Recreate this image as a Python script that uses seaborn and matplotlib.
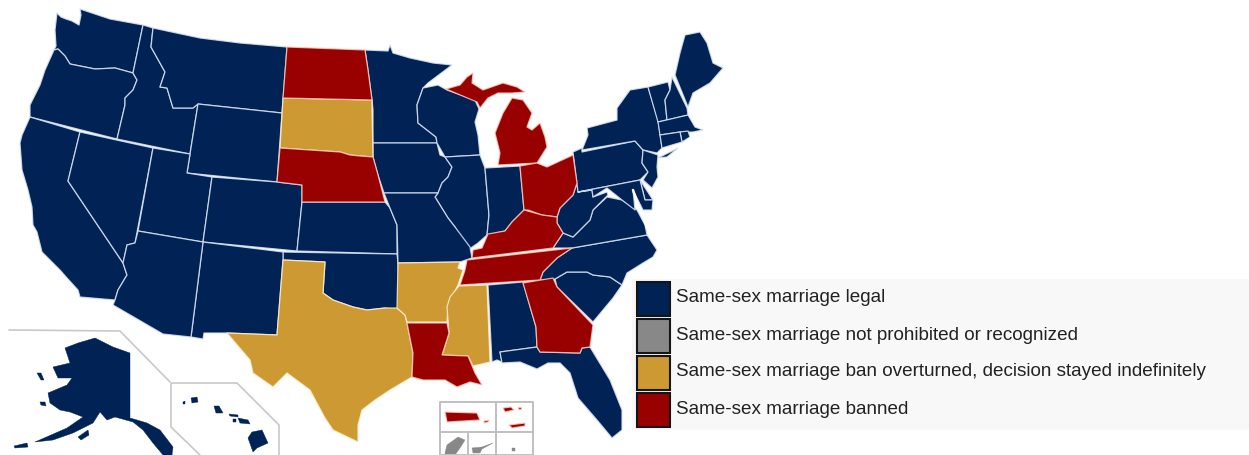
import matplotlib
matplotlib.use("Agg")
import matplotlib.pyplot as plt
from matplotlib.patches import Rectangle
import seaborn as sns

# outlines, in image pixels (x, y)
WA = [(57,13),(61,17),(66,19),(72,21),(79,25),(81,15),(80,9),(110,19),(143,25),(133,73),(115,68),(95,69),(80,66),(70,64),(65,56),(58,49),(54,50),(56,46),(55,30)]
OR = [(54,50),(58,49),(65,56),(70,64),(80,66),(95,69),(115,68),(133,73),(137,80),(133,90),(125,98),(125,105),(117,139),(30,117),(30,105),(40,85),(45,70)]
CA = [(30,117),(80,132),(68,181),(123,263),(127,275),(118,290),(115,300),(80,297),(78,290),(67,278),(60,270),(42,252),(37,232),(33,225),(32,207),(28,190),(22,170),(20,143),(22,135)]
NV = [(80,132),(153,148),(135,243),(127,245),(123,263),(68,181)]
ID = [(143,25),(153,28),(151,47),(160,63),(165,72),(160,87),(167,88),(173,108),(193,108),(198,104),(190,154),(117,139),(125,105),(125,98),(133,90),(137,80),(133,73)]
MT = [(153,28),(200,38),(240,43),(287,47),(282,113),(198,104),(193,108),(173,108),(167,88),(160,87),(165,72),(160,63),(151,47)]
ND = [(287,47),(365,50),(368,70),(372,100),(283,98)]
SD = [(283,98),(372,100),(372,110),(373,157),(360,156),(350,155),(340,152),(280,148)]
NE = [(280,148),(340,152),(350,155),(360,156),(373,157),(378,175),(385,202),(302,202),(302,185),(277,182)]
WY = [(198,104),(282,113),(277,182),(187,173)]
UT = [(153,148),(190,154),(187,173),(212,177),(203,242),(138,231)]
CO = [(212,177),(277,182),(302,185),(302,202),(297,251),(203,242)]
KS = [(302,202),(385,202),(390,208),(397,225),(397,254),(297,251)]
OK = [(283,252),(397,254),(398,263),(400,310),(385,308),(367,310),(353,307),(333,300),(323,293),(325,262),(283,260)]
NM = [(203,242),(283,252),(283,260),(277,335),(227,333),(204,333),(203,339),(191,337)]
AZ = [(138,231),(203,242),(191,337),(163,334),(113,305),(115,300),(118,290),(127,275),(123,263),(127,245),(135,243)]
TX = [(283,260),(325,262),(323,293),(333,300),(353,307),(367,310),(385,308),(397,308),(405,315),(407,323),(413,353),(412,377),(390,390),(375,400),(362,410),(358,425),(358,442),(333,430),(325,418),(310,390),(287,373),(273,387),(253,373),(250,360),(227,333),(277,335)]
MN = [(365,50),(388,51),(390,45),(393,53),(410,58),(433,63),(452,65),(428,83),(423,88),(417,105),(418,123),(436,137),(437,143),(373,143),(373,110),(372,100),(368,70)]
IA = [(373,143),(437,143),(440,155),(445,157),(452,167),(448,177),(442,183),(438,193),(384,193),(378,175),(373,157)]
WI = [(423,88),(438,85),(447,90),(475,100),(479,109),(475,122),(478,135),(480,155),(445,157),(437,143),(436,137),(418,123),(417,105)]
IL = [(445,157),(480,155),(485,168),(489,215),(487,235),(478,243),(468,250),(455,227),(448,218),(435,197),(438,193),(442,183),(448,177),(452,167)]
IN = [(485,168),(520,166),(524,210),(512,222),(505,231),(487,235),(489,215)]
OH = [(520,166),(537,163),(547,167),(573,155),(577,183),(573,195),(560,208),(557,217),(542,215),(528,210),(524,210)]
MI_LOWER = [(498,165),(537,163),(547,147),(545,137),(540,123),(532,130),(527,127),(532,113),(523,100),(512,98),(503,113),(495,133),(500,153)]
MI_UPPER = [(446,89),(460,85),(467,77),(473,73),(472,83),(483,90),(503,83),(517,87),(525,92),(512,93),(498,93),(488,98),(480,108),(477,102)]
KY = [(472,258),(473,250),(482,248),(488,234),(505,231),(512,222),(524,210),(542,215),(557,217),(557,223),(563,233),(553,248)]
TN = [(467,260),(572,248),(557,258),(543,272),(540,280),(460,285),(465,270)]
AR = [(398,263),(460,262),(458,268),(463,270),(458,285),(448,305),(447,322),(407,322),(405,315),(397,308)]
MO = [(384,193),(438,193),(435,197),(448,218),(455,227),(470,247),(472,258),(466,260),(460,262),(398,263),(397,225),(390,208)]
LA = [(407,323),(447,323),(449,333),(442,355),(468,356),(473,368),(475,373),(482,385),(470,382),(457,387),(445,380),(423,380),(412,377),(413,353)]
MS = [(459,286),(487,285),(490,362),(473,366),(468,356),(442,355),(449,333),(447,307),(450,297)]
AL = [(488,285),(523,282),(536,327),(537,347),(500,352),(502,362),(497,360),(492,362)]
GA = [(523,283),(553,278),(557,287),(593,325),(590,347),(582,348),(580,353),(540,352),(537,347),(536,327)]
SC = [(555,279),(567,272),(587,272),(593,275),(610,277),(622,285),(613,298),(593,322),(557,287)]
FL = [(500,352),(537,347),(540,352),(580,353),(582,348),(590,347),(610,380),(622,410),(622,430),(612,438),(597,420),(578,398),(570,373),(560,363),(548,363),(537,369),(520,362),(502,363)]
NC = [(572,248),(647,235),(657,250),(653,257),(643,263),(627,273),(622,285),(610,277),(593,275),(587,272),(567,272),(555,279),(540,280),(543,272),(557,258)]
VA = [(553,248),(563,233),(573,237),(590,220),(593,210),(607,197),(622,200),(637,210),(645,225),(647,235),(572,248)]
WV = [(577,183),(578,192),(592,190),(593,197),(607,192),(608,195),(593,210),(590,220),(573,237),(563,233),(557,223),(557,217),(560,208),(573,195)]
PA = [(573,152),(582,148),(582,152),(635,141),(643,150),(642,163),(648,172),(640,180),(578,192)]
NY = [(582,150),(588,135),(587,128),(617,120),(617,108),(630,90),(648,87),(658,120),(662,148),(657,153),(643,150),(635,141)]
LONG_ISLAND = [(658,158),(678,148),(667,157)]
NJ = [(643,150),(658,155),(657,167),(658,177),(652,188),(643,180),(648,172),(642,163)]
DE = [(640,180),(653,200),(645,200)]
MD = [(578,192),(640,180),(645,200),(653,200),(652,210),(643,210),(633,190),(635,210),(622,200),(607,188),(593,197),(592,190)]
VT = [(648,87),(668,82),(670,90),(665,100),(667,120),(658,122)]
NH = [(672,77),(687,108),(688,115),(667,120),(665,100),(670,90)]
ME = [(675,75),(680,53),(685,35),(700,32),(707,43),(713,63),(723,68),(710,83),(693,93),(688,107)]
MA = [(658,122),(688,115),(695,127),(703,130),(693,132),(680,132),(660,135)]
RI = [(680,132),(688,131),(690,137),(682,142)]
CT = [(660,135),(680,132),(682,142),(662,148)]
AK = [(65,348),(78,343),(95,338),(113,347),(130,353),(130,418),(137,420),(147,423),(160,430),(173,447),(172,455),(163,455),(153,443),(143,430),(133,422),(115,417),(107,420),(100,412),(93,423),(73,433),(53,440),(35,442),(67,428),(83,417),(70,412),(60,410),(50,403),(48,393),(67,385),(72,378),(58,378),(53,367),(70,363)]
AK_ISLE_1 = [(37,373),(41,373),(44,380),(41,380)]
AK_ISLE_2 = [(40,402),(45,402),(46,406),(41,405)]
AK_ISLE_3 = [(78,437),(88,430),(89,435),(81,440)]
AK_ISLE_4 = [(14,446),(27,443),(28,447),(15,448)]
HI_BIG = [(252,432),(262,430),(268,443),(257,448),(253,452),(248,438)]
HI_MAUI = [(238,418),(248,420),(250,424),(240,423)]
HI_MOLOKAI = [(229,414),(238,415),(238,417),(230,416)]
HI_LANAI = [(233,419),(236,419),(236,422),(233,422)]
HI_OAHU = [(214,406),(219,406),(223,413),(216,413)]
HI_KAUAI = [(191,398),(197,397),(198,402),(192,403)]
HI_NIIHAU = [(183,402),(185,401),(185,404),(183,404)]
PR = [(445,412),(477,413),(480,420),(447,422)]
PR_ISLE = [(484,421),(489,420),(488,422),(484,423)]
VI_1 = [(503,408),(511,407),(514,410),(505,412)]
VI_2 = [(518,407),(521,407),(521,409),(518,409)]
VI_3 = [(509,425),(525,423),(525,426),(512,428)]
GUAM = [(445,453),(447,445),(458,437),(465,440),(460,448),(455,455),(445,455)]
CNMI = [(472,448),(482,447),(493,443),(482,449),(480,453),(473,453)]
SAMOA_1 = [(512,448),(515,448),(515,451),(512,451)]

legal_states = [WA, OR, CA, NV, ID, MT, WY, UT, CO, KS, OK, NM, AZ, MN, IA, WI, IL, IN, MO, AL, SC, FL, NC, VA,
                WV, PA, NY, LONG_ISLAND, NJ, DE, MD, VT, NH, ME, MA, RI, CT]
legal_islands = [AK, AK_ISLE_1, AK_ISLE_2, AK_ISLE_3, AK_ISLE_4, HI_BIG, HI_MAUI, HI_MOLOKAI, HI_LANAI,
                 HI_OAHU, HI_KAUAI, HI_NIIHAU]
overturned_states = [SD, TX, AR, MS]
banned_states = [ND, NE, MI_LOWER, MI_UPPER, OH, KY, TN, LA, GA, PR, PR_ISLE, VI_1, VI_2, VI_3]
unrecognized = [GUAM, CNMI, SAMOA_1]

chesapeake = [(633,190),(637,202),(641,212),(645,222),(647,228)]
inset_alaska = [(9,330),(120,331),(170,382)]
inset_hawaii = [(279,455),(279,425),(237,383),(171,383),(171,427),(200,455)]
inset_box_x = [440, 533, 533, 440, 440]
inset_box_y = [455, 455, 402, 402, 455]

legend_labels = ["Same-sex marriage legal",
                 "Same-sex marriage not prohibited or recognized",
                 "Same-sex marriage ban overturned, decision stayed indefinitely",
                 "Same-sex marriage banned"]
legend_colors = ["#002255", "#888888", "#cc9933", "#990000"]

sns.set_theme(style="white")
plt.rcParams["font.family"] = ["Liberation Sans", "DejaVu Sans"]

fig = plt.figure(figsize=(12.49, 4.55), dpi=100)
ax = fig.add_axes([0, 0, 1, 1])
ax.set_xlim(0, 1249)
ax.set_ylim(455, 0)
ax.axis("off")


def draw_shapes(shapes, color, edge=(0.85, 0.89, 0.95, 0.85), lw=0.9):
    for shape in shapes:
        xs, ys = zip(*shape)
        ax.fill(xs, ys, facecolor=color, edgecolor=edge, linewidth=lw, joinstyle="round")


draw_shapes(legal_states, legend_colors[0])
draw_shapes(legal_islands, legend_colors[0], edge=legend_colors[0], lw=0.3)
draw_shapes(overturned_states, legend_colors[2], edge=(1, 0.93, 0.8, 0.85))
draw_shapes(banned_states, legend_colors[3], edge=(1, 0.8, 0.75, 0.8))
draw_shapes(unrecognized, legend_colors[1], edge=legend_colors[1], lw=0.3)

ax.plot(*zip(*chesapeake), color="white", lw=1.8)

for line in [inset_alaska, inset_hawaii]:
    ax.plot(*zip(*line), color="#c8c8c8", lw=1.2)
ax.plot(inset_box_x, inset_box_y, color="#c0c0c0", lw=1.4)
ax.plot([496, 496], [402, 455], color="#c0c0c0", lw=1.4)
ax.plot([440, 533], [432, 432], color="#c0c0c0", lw=1.4)
ax.plot([468, 468], [432, 455], color="#c0c0c0", lw=1.4)

# legend is a plain panel with swatches, like the wiki table it came from
ax.add_patch(Rectangle((632, 279), 617, 151, facecolor="#f8f8f8", edgecolor="none", zorder=3))
for i, (label, color) in enumerate(zip(legend_labels, legend_colors)):
    top = 282 + i * 37
    ax.add_patch(Rectangle((637, top), 33, 34, facecolor=color, edgecolor="#151515", linewidth=1.5, zorder=4))
    ax.text(676, top + 16, label, fontsize=13.6, color="#222222", va="center", ha="left", zorder=4)

fig.savefig("out.png", dpi=100)
plt.close(fig)
